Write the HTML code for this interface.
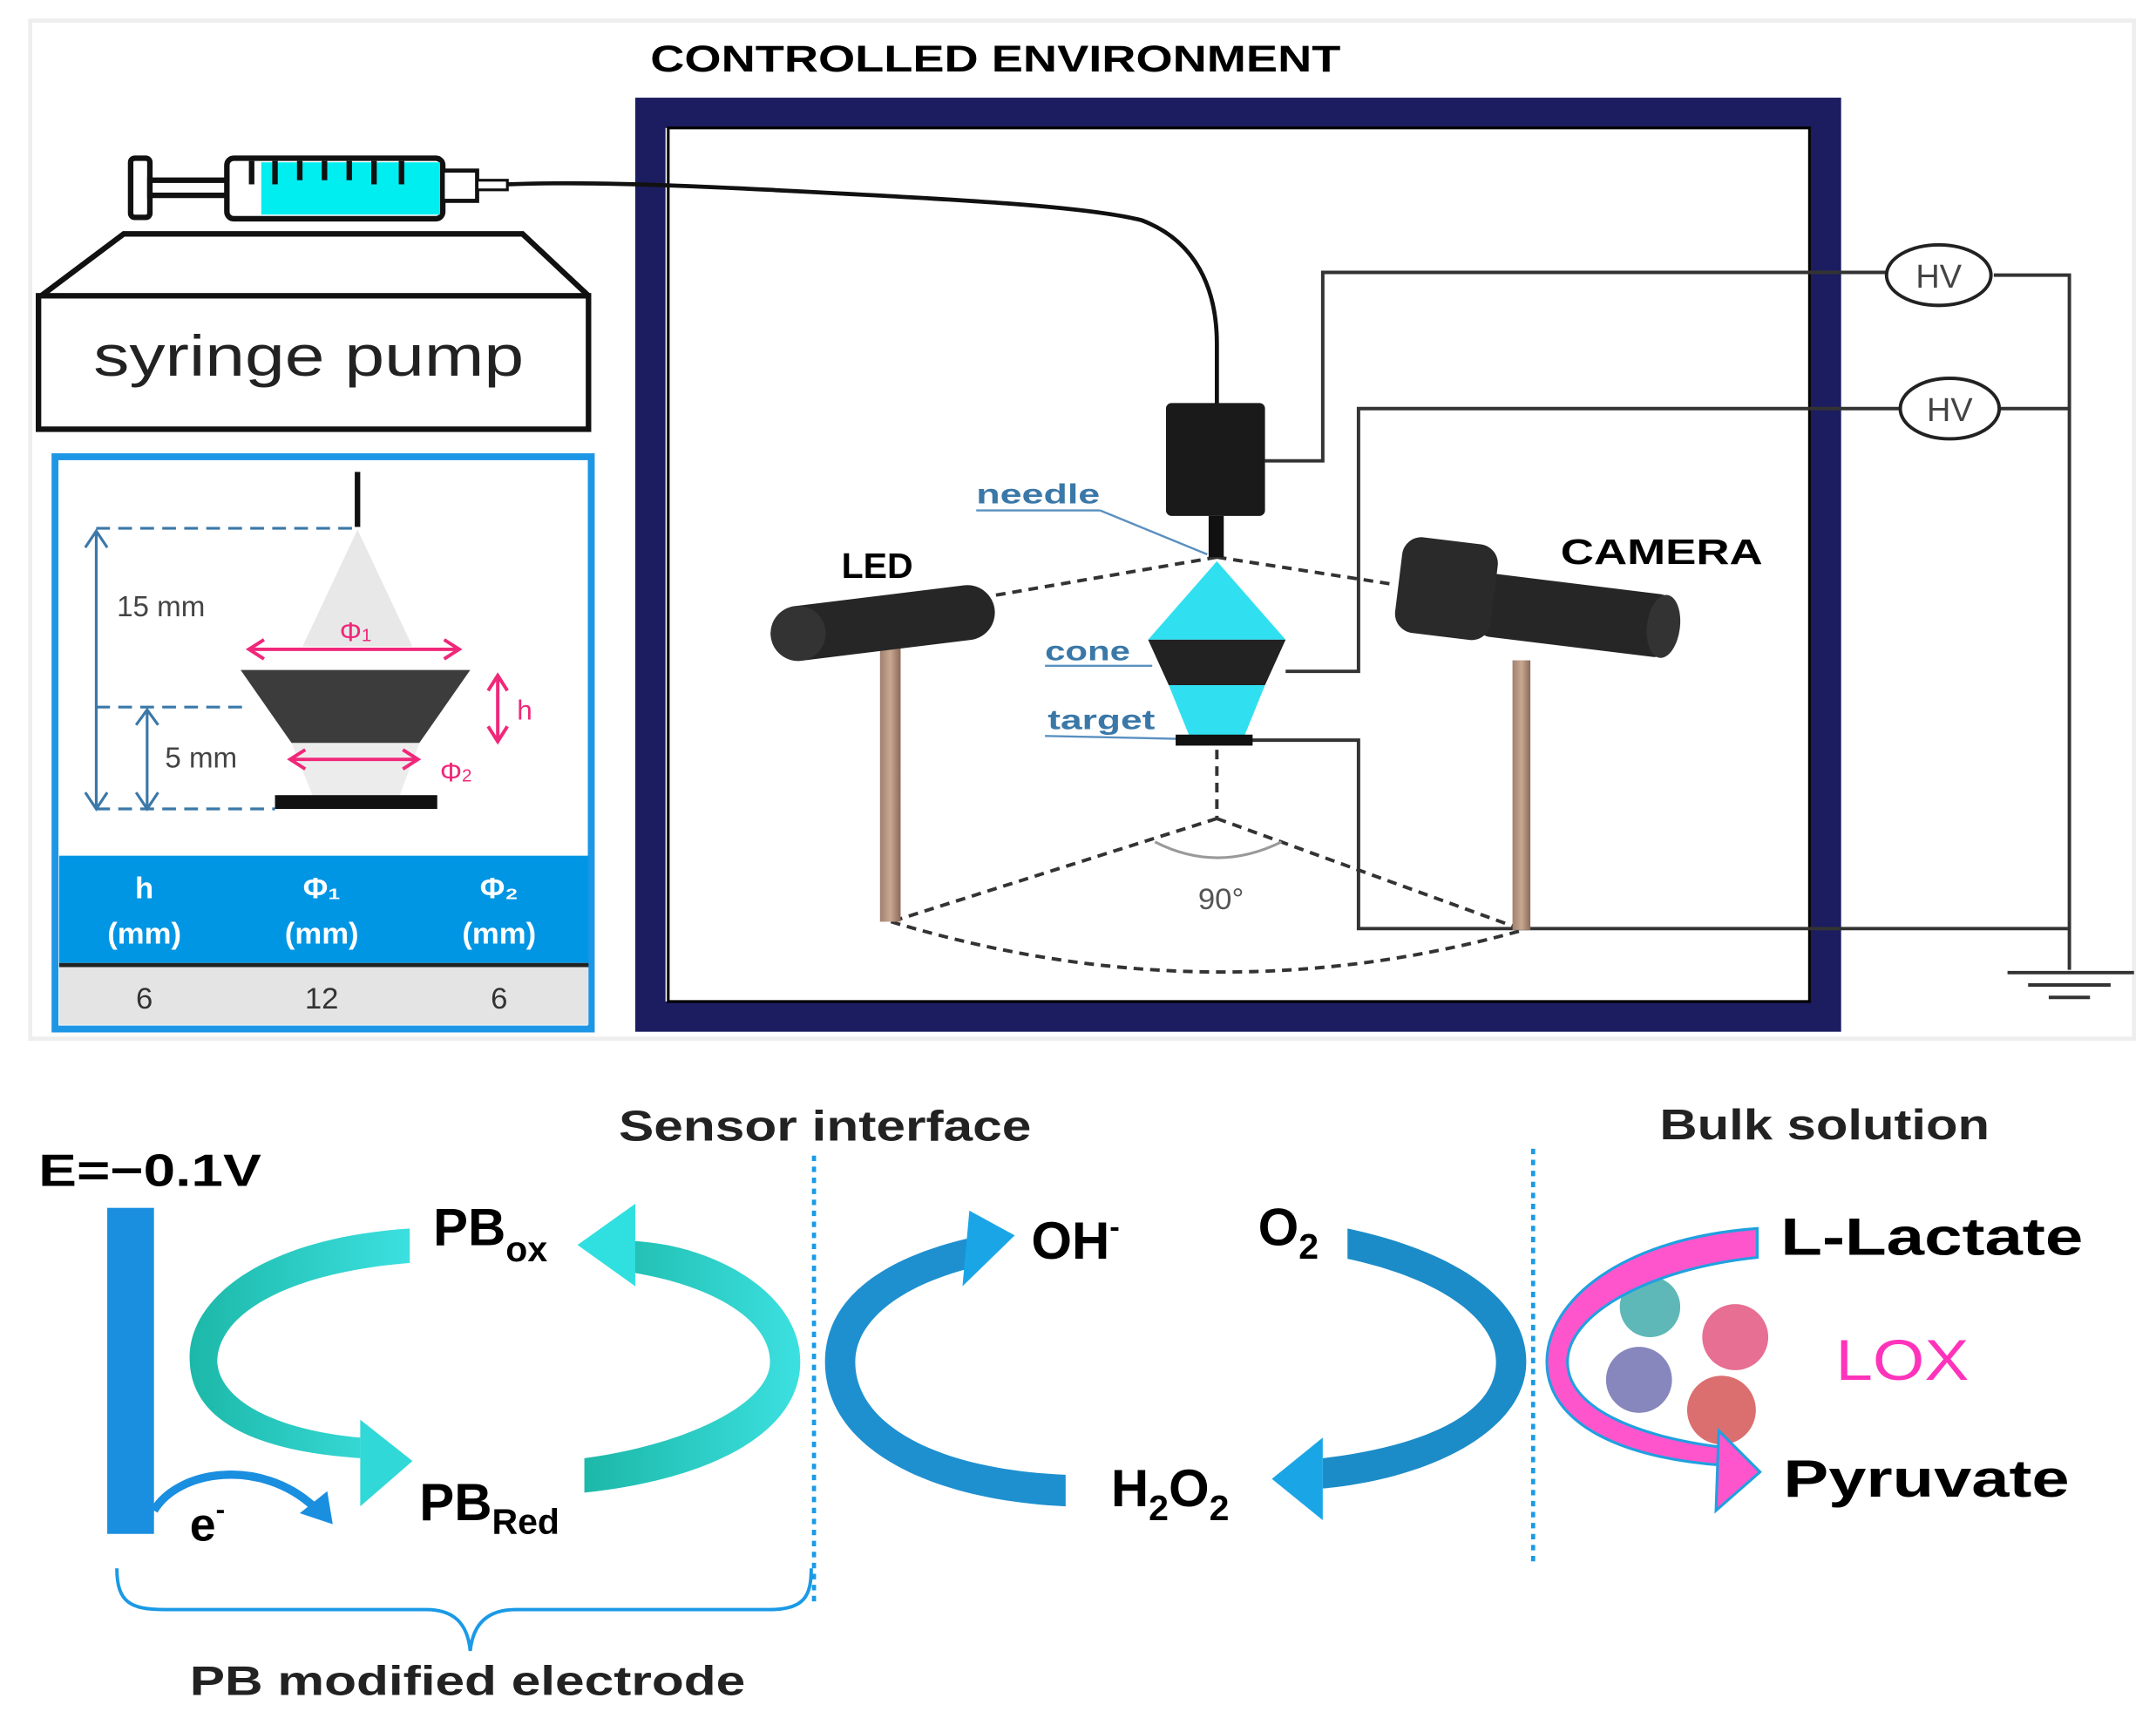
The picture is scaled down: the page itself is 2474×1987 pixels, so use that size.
<!DOCTYPE html>
<html><head><meta charset="utf-8"><style>
html,body{margin:0;padding:0;background:#fff}
svg{display:block}
text{font-family:"Liberation Sans",sans-serif}
</style></head><body>
<svg width="2474" height="1987" viewBox="0 0 1568 1259" preserveAspectRatio="none" xmlns="http://www.w3.org/2000/svg">
<defs>
<linearGradient id="pole" x1="0" x2="1"><stop offset="0" stop-color="#a08070"/><stop offset=".5" stop-color="#c8a890"/><stop offset="1" stop-color="#8a6a5a"/></linearGradient>
<linearGradient id="teal" x1="0" x2="1"><stop offset="0" stop-color="#1cb8a8"/><stop offset="1" stop-color="#3ce0e0"/></linearGradient>
</defs>
<rect x="22" y="15" width="1530" height="740" fill="none" stroke="#eee" stroke-width="3"/>
<text x="473" y="52" font-size="27" font-weight="bold" textLength="502" lengthAdjust="spacingAndGlyphs">CONTROLLED ENVIRONMENT</text>
<!-- frame -->
<rect x="473" y="82" width="855" height="657" fill="none" stroke="#1c1c60" stroke-width="22"/>
<rect x="486" y="93" width="830" height="635" fill="none" stroke="#000" stroke-width="2"/>
<!-- syringe -->
<rect x="95" y="115" width="14" height="43" rx="3" fill="#fff" stroke="#111" stroke-width="4"/>
<rect x="109" y="131" width="57" height="11" fill="#fff" stroke="#111" stroke-width="4"/>
<rect x="165" y="115" width="157" height="44" rx="5" fill="#fff" stroke="#111" stroke-width="4"/>
<rect x="190" y="118" width="130" height="38" fill="#00eef0"/>
<g stroke="#111" stroke-width="4"><line x1="183" y1="117" x2="183" y2="134"/><line x1="200" y1="117" x2="200" y2="134"/><line x1="218" y1="117" x2="218" y2="131"/><line x1="236" y1="117" x2="236" y2="131"/><line x1="254" y1="117" x2="254" y2="131"/><line x1="272" y1="117" x2="272" y2="134"/><line x1="292" y1="117" x2="292" y2="134"/></g>
<rect x="322" y="124" width="25" height="22" fill="#fff" stroke="#111" stroke-width="3"/>
<rect x="347" y="131" width="22" height="7" fill="#fff" stroke="#111" stroke-width="2"/>
<path d="M369,134 C420,132 480,134 560,138 C700,145 790,150 830,160 C870,175 885,210 885,250 L885,295" fill="none" stroke="#111" stroke-width="3"/>
<!-- pump -->
<path d="M30,215 L90,170 L380,170 L428,215" fill="#fff" stroke="#111" stroke-width="4"/>
<rect x="28" y="215" width="400" height="97" fill="#fff" stroke="#111" stroke-width="4"/>
<text x="68" y="273" font-size="42" fill="#222" textLength="313" lengthAdjust="spacingAndGlyphs">syringe pump</text>
<!-- inset -->
<rect x="40" y="332" width="390" height="416" fill="#fff" stroke="#1e96e6" stroke-width="5"/>
<rect x="43" y="622" width="385" height="78" fill="#0096e4"/>
<rect x="43" y="700" width="385" height="3" fill="#222"/>
<rect x="43" y="703" width="385" height="42" fill="#e4e4e4"/>
<g fill="#fff" font-weight="bold" font-size="22" text-anchor="middle">
<text x="105" y="653">h</text><text x="105" y="686">(mm)</text>
<text x="234" y="653">Φ₁</text><text x="234" y="686">(mm)</text>
<text x="363" y="653">Φ₂</text><text x="363" y="686">(mm)</text></g>
<g fill="#333" font-size="22" text-anchor="middle"><text x="105" y="733">6</text><text x="234" y="733">12</text><text x="363" y="733">6</text></g>
<line x1="260" y1="343" x2="260" y2="383" stroke="#111" stroke-width="4"/>
<polygon points="260,385 220,470 300,470" fill="#e8e8e8"/>
<polygon points="212,540 305,540 290,580 228,580" fill="#ececec"/>
<polygon points="175,487 342,487 305,540 212,540" fill="#3c3c3c"/>
<rect x="200" y="578" width="118" height="10" fill="#111"/>
<g stroke="#3a78a8" stroke-width="2" stroke-dasharray="10,6" fill="none">
<line x1="70" y1="384" x2="260" y2="384"/><line x1="70" y1="514" x2="180" y2="514"/><line x1="70" y1="588" x2="200" y2="588"/></g>
<g stroke="#3a78a8" stroke-width="2" fill="none">
<line x1="70" y1="387" x2="70" y2="586"/><path d="M62,398 L70,386 L78,398 M62,576 L70,588 L78,576"/>
<line x1="107" y1="516" x2="107" y2="586"/><path d="M99,527 L107,516 L115,527 M99,576 L107,588 L115,576"/></g>
<g stroke="#f0287a" stroke-width="2.5" fill="none">
<line x1="182" y1="472" x2="333" y2="472"/><path d="M192,465 L181,472 L192,479 M323,465 L334,472 L323,479"/>
<line x1="212" y1="552" x2="303" y2="552"/><path d="M222,545 L211,552 L222,559 M293,545 L304,552 L293,559"/>
<line x1="362" y1="492" x2="362" y2="538"/><path d="M355,502 L362,491 L369,502 M355,528 L362,539 L369,528"/></g>
<text x="85" y="448" font-size="21" fill="#444">15 mm</text>
<text x="120" y="558" font-size="21" fill="#444">5 mm</text>
<text x="376" y="523" font-size="20" fill="#f0287a">h</text>
<text x="247" y="466" font-size="20" fill="#f0287a">Φ<tspan font-size="13">1</tspan></text>
<text x="320" y="568" font-size="20" fill="#f0287a">Φ<tspan font-size="13">2</tspan></text>
<!-- wires -->
<g stroke="#333" stroke-width="2.5" fill="none">
<path d="M920,335 H962 V198 H1372"/><path d="M1450,200 H1505 V705"/>
<path d="M935,488 H988 V297 H1383"/><path d="M1455,297 H1505"/>
<path d="M910,538 H988 V675 H1505"/>
<line x1="1460" y1="707" x2="1552" y2="707"/><line x1="1475" y1="716" x2="1535" y2="716"/><line x1="1490" y1="725" x2="1520" y2="725"/></g>
<ellipse cx="1410" cy="200" rx="38" ry="22" fill="#fff" stroke="#222" stroke-width="2.5"/>
<ellipse cx="1418" cy="297" rx="36" ry="22" fill="#fff" stroke="#222" stroke-width="2.5"/>
<text x="1410" y="209" font-size="24" text-anchor="middle" fill="#444">HV</text>
<text x="1418" y="306" font-size="24" text-anchor="middle" fill="#444">HV</text>
<!-- dashed geometry -->
<g stroke="#333" stroke-width="2.5" stroke-dasharray="7,5" fill="none">
<line x1="885" y1="405" x2="722" y2="433"/><line x1="885" y1="405" x2="1015" y2="425"/>
<line x1="885" y1="545" x2="885" y2="595"/><line x1="885" y1="595" x2="648" y2="670"/><line x1="885" y1="595" x2="1108" y2="676"/>
<path d="M648,670 Q880,740 1108,676"/></g>
<path d="M840,612 Q885,635 932,612" fill="none" stroke="#999" stroke-width="2"/>
<text x="888" y="661" font-size="22" text-anchor="middle" fill="#555">90°</text>
<!-- needle assembly -->
<rect x="848" y="293" width="72" height="82" rx="4" fill="#1a1a1a"/>
<rect x="879" y="375" width="11" height="30" fill="#111"/>
<polygon points="885,408 835,465 935,465" fill="#30e0f0"/>
<polygon points="835,465 935,465 920,498 850,498" fill="#222"/>
<polygon points="850,498 920,498 905,535 865,535" fill="#30e0f0"/>
<rect x="855" y="534" width="56" height="8" fill="#111"/>
<g fill="#3a78a8" font-size="20" font-weight="bold"><text x="710" y="366" textLength="90" lengthAdjust="spacingAndGlyphs">needle</text><text x="760" y="480" textLength="62" lengthAdjust="spacingAndGlyphs">cone</text><text x="762" y="530" textLength="78" lengthAdjust="spacingAndGlyphs">target</text></g>
<g stroke="#5a90c0" stroke-width="1.5"><line x1="710" y1="371" x2="800" y2="371"/><line x1="800" y1="371" x2="878" y2="403"/><line x1="760" y1="484" x2="838" y2="484"/><line x1="760" y1="535" x2="855" y2="537"/></g>
<!-- LED -->
<rect x="640" y="470" width="15" height="200" fill="url(#pole)"/>
<g transform="rotate(-7 641 453)"><rect x="560" y="433" width="164" height="40" rx="20" fill="#262626"/><ellipse cx="580" cy="453" rx="20" ry="20" fill="#333"/></g>
<text x="612" y="420" font-size="26" font-weight="bold">LED</text>
<!-- camera -->
<rect x="1100" y="480" width="13" height="196" fill="url(#pole)"/>
<g transform="rotate(7 1150 450)"><rect x="1075" y="425" width="140" height="46" rx="10" fill="#262626"/><ellipse cx="1210" cy="448" rx="12" ry="23" fill="#333"/><rect x="1015" y="405" width="70" height="70" rx="14" fill="#2a2a2a"/></g>
<text x="1135" y="410" font-size="26" font-weight="bold" textLength="147" lengthAdjust="spacingAndGlyphs">CAMERA</text>
<!-- bottom -->
<text x="450" y="829" font-size="31" font-weight="bold" fill="#222" textLength="300" lengthAdjust="spacingAndGlyphs">Sensor interface</text>
<text x="1207" y="828" font-size="31" font-weight="bold" fill="#222" textLength="240" lengthAdjust="spacingAndGlyphs">Bulk solution</text>
<text x="28" y="862" font-size="33" font-weight="bold" textLength="162" lengthAdjust="spacingAndGlyphs">E=−0.1V</text>
<g stroke="#1a9ae6" stroke-width="3" stroke-dasharray="4,4"><line x1="592" y1="840" x2="592" y2="1165"/><line x1="1115" y1="835" x2="1115" y2="1137"/></g>
<rect x="78" y="878" width="34" height="237" fill="#1a8fe0"/>
<path d="M112,1098 C130,1068 190,1060 228,1095" fill="none" stroke="#1a8fe0" stroke-width="6"/>
<polygon points="218,1100 242,1108 238,1084" fill="#1a8fe0"/>
<text x="138" y="1120" font-size="34" font-weight="bold">e<tspan font-size="20" dy="-16">-</tspan></text>
<!-- teal arcs -->
<path d="M298,893 C190,900 135,945 138,990 C140,1035 190,1055 262,1060 L262,1045 C205,1040 160,1020 158,990 C158,955 210,925 298,918 Z" fill="url(#teal)"/>
<polygon points="262,1032 300,1062 262,1095" fill="#30d8d8"/>
<path d="M425,1085 C520,1075 582,1040 582,990 C582,940 520,905 460,902 L460,925 C520,935 560,960 560,990 C560,1020 500,1050 425,1060 Z" fill="url(#teal)"/>
<polygon points="462,875 420,905 462,935" fill="#30e0e0"/>
<text x="315" y="905" font-size="38" font-weight="bold">PB<tspan font-size="26" dy="12">ox</tspan></text>
<text x="305" y="1105" font-size="38" font-weight="bold">PB<tspan font-size="26" dy="10">Red</tspan></text>
<!-- middle arcs -->
<path d="M775,1095 C670,1090 600,1050 600,990 C600,945 640,915 705,900 L705,922 C655,935 622,960 622,990 C622,1035 680,1068 775,1072 Z" fill="#1e90d0"/>
<polygon points="705,880 738,898 700,935" fill="#1aa6e6"/>
<text x="750" y="915" font-size="38" font-weight="bold">OH<tspan font-size="22" dy="-16">-</tspan></text>
<text x="915" y="905" font-size="38" font-weight="bold">O<tspan font-size="26" dy="10">2</tspan></text>
<path d="M980,893 C1060,910 1110,945 1110,990 C1110,1040 1040,1075 962,1082 L962,1060 C1030,1052 1088,1030 1088,990 C1088,960 1050,930 980,915 Z" fill="#1c8cc8"/>
<polygon points="962,1045 925,1075 962,1105" fill="#1aa6e6"/>
<text x="808" y="1095" font-size="38" font-weight="bold">H<tspan font-size="26" dy="10">2</tspan><tspan dy="-10">O</tspan><tspan font-size="26" dy="10">2</tspan></text>
<!-- pink arc -->
<g opacity=".75"><circle cx="1200" cy="950" r="22" fill="#2aa0a0"/><circle cx="1262" cy="972" r="24" fill="#e04070"/><circle cx="1192" cy="1003" r="24" fill="#6060a8"/><circle cx="1252" cy="1025" r="25" fill="#d04040"/></g>
<path d="M1278,893 C1180,900 1125,945 1125,990 C1125,1035 1180,1060 1252,1065 L1252,1052 C1195,1045 1140,1025 1140,990 C1140,955 1200,922 1278,914 Z" fill="#ff55cc" stroke="#20a0e0" stroke-width="2"/>
<polygon points="1250,1040 1280,1070 1248,1098" fill="#ff55cc" stroke="#20a0e0" stroke-width="2"/>
<text x="1295" y="912" font-size="38" font-weight="bold" textLength="220" lengthAdjust="spacingAndGlyphs">L-Lactate</text>
<text x="1335" y="1003" font-size="42" fill="#ff33bb" textLength="97" lengthAdjust="spacingAndGlyphs">LOX</text>
<text x="1297" y="1088" font-size="38" font-weight="bold" textLength="208" lengthAdjust="spacingAndGlyphs">Pyruvate</text>
<path d="M85,1140 C85,1165 95,1170 120,1170 L310,1170 C330,1170 340,1180 342,1200 C344,1180 355,1170 375,1170 L560,1170 C585,1170 590,1160 590,1140" fill="none" stroke="#1a9ae6" stroke-width="2.5"/>
<text x="138" y="1232" font-size="30" font-weight="bold" fill="#222" textLength="404" lengthAdjust="spacingAndGlyphs">PB modified electrode</text>
</svg>
</body></html>
